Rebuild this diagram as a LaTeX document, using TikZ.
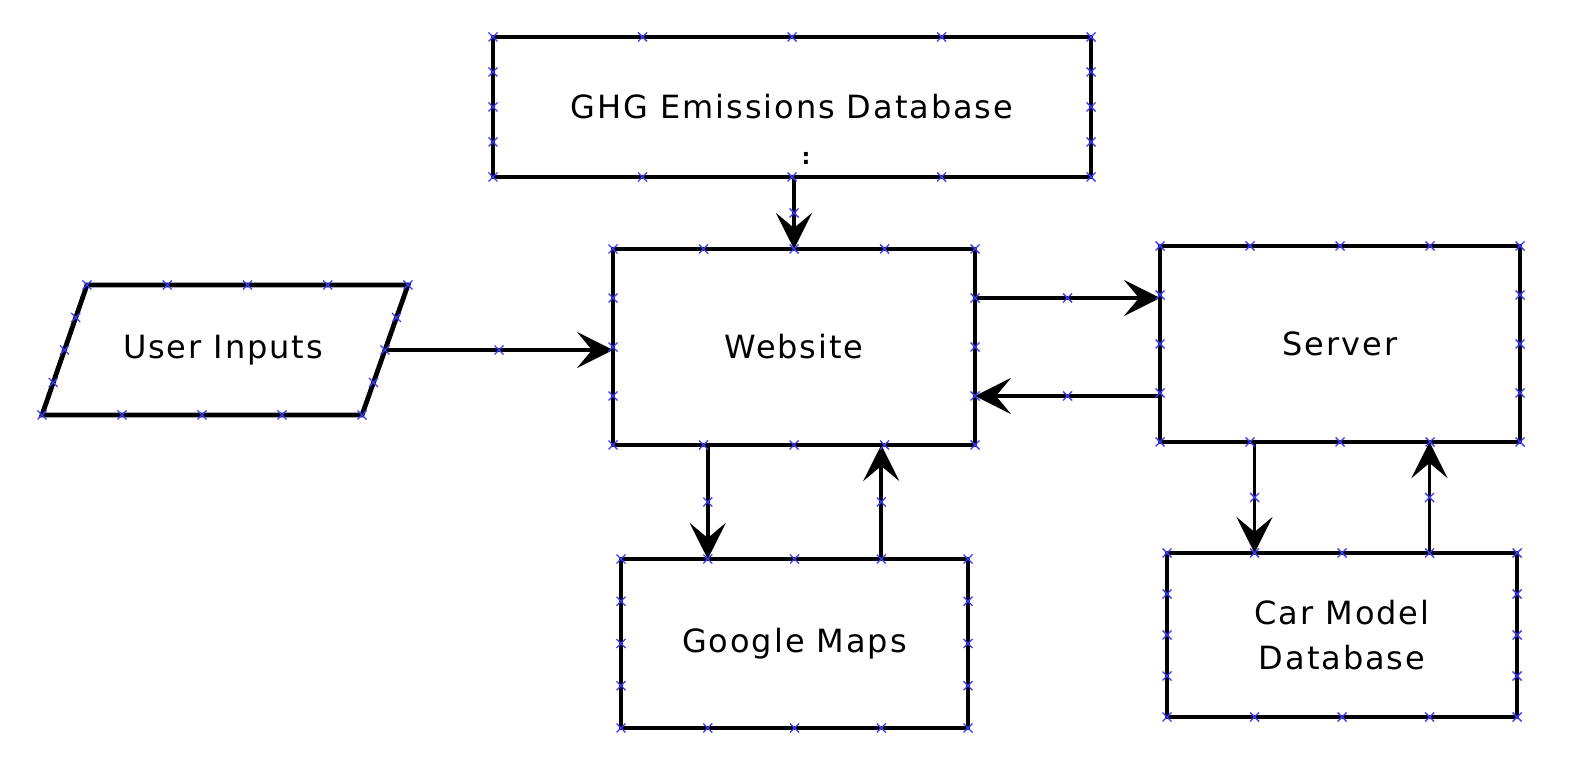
\documentclass[tikz,border=0pt]{standalone}
\usepackage{fontspec}
\setmainfont{DejaVu Sans}[LetterSpace=6]
\usetikzlibrary{arrows.meta,calc}
\definecolor{cpblue}{RGB}{60,60,255}
\tikzset{
  txt/.style={font=\fontsize{16}{22.5}\selectfont, align=center, text=black},
  box/.style={draw, line width=2.4pt, outer sep=0pt, inner sep=0pt, txt},
  pgram/.style={draw, line width=2.4pt, line join=miter},
  arr/.style={line width=1.9pt, -{Stealth[length=18pt,width=18pt,inset=7.5pt]}},
  cpmark/.style={draw=cpblue, line width=0.7pt}
}
\newcommand\cpx[1]{\draw[cpmark] (#1) +(-4.5,-4.5) -- +(4.5,4.5) +(-4.5,4.5) -- +(4.5,-4.5);}
\newcommand\cpedge[2]{\foreach \t in {0,0.25,0.5,0.75}{\cpx{$(#1)!\t!(#2)$}}}
\newcommand\cpquad[4]{\cpedge{#1}{#2}\cpedge{#2}{#3}\cpedge{#3}{#4}\cpedge{#4}{#1}}
\begin{document}
\begin{tikzpicture}[x=0.5pt,y=-0.5pt]
\useasboundingbox (0,0) rectangle (1576,764);
% boxes
\node[box, minimum width=299pt, minimum height=70pt] (ghg) at (792,107) {GHG Emissions Database};
\node[font=\fontsize{11}{11}\bfseries] (colon) at (806,158) {:};
\node[box, minimum width=181pt, minimum height=98pt] (web) at (794,347) {Website};
\node[box, minimum width=180pt, minimum height=98pt] (srv) at (1340,344) {Server};
\node[box, minimum width=173.5pt, minimum height=84.5pt] (gm) at (794.5,643.5) {Google Maps};
\node[box, minimum width=175pt, minimum height=82pt] (car) at (1342,635) {Car Model\\Database};
% parallelogram
\coordinate (uiTL) at (87,285);
\coordinate (uiTR) at (408,285);
\coordinate (uiBR) at (362,415);
\coordinate (uiBL) at (42,415);
\draw[pgram] (uiTL) -- (uiTR) -- (uiBR) -- (uiBL) -- cycle;
\node[txt] (ui) at (223,350) {User Inputs};
\coordinate (uiR) at ($(uiTR)!0.5!(uiBR)$);
% connection coordinates
\coordinate (wE1) at ($(web.north east)!0.25!(web.south east)$);
\coordinate (wE3) at ($(web.north east)!0.75!(web.south east)$);
\coordinate (gN1) at ($(gm.north west)!0.25!(gm.north east)$);
\coordinate (gN3) at ($(gm.north west)!0.75!(gm.north east)$);
\coordinate (cN1) at ($(car.north west)!0.25!(car.north east)$);
\coordinate (cN3) at ($(car.north west)!0.75!(car.north east)$);
\coordinate (a1s) at (web.north |- ghg.south);
\coordinate (a2e) at (uiR -| web.west);
\coordinate (a3e) at (wE1 -| srv.west);
\coordinate (a4s) at (wE3 -| srv.west);
\coordinate (a5s) at (gN1 |- web.south);
\coordinate (a6e) at (gN3 |- web.south);
\coordinate (a7s) at (cN1 |- srv.south);
\coordinate (a8e) at (cN3 |- srv.south);
% arrows
\draw[arr] (a1s) -- (web.north);
\draw[arr] (uiR) -- (a2e);
\draw[arr] (wE1) -- (a3e);
\draw[arr] (a4s) -- (wE3);
\draw[arr] (a5s) -- (gN1);
\draw[arr] (gN3) -- (a6e);
\draw[arr] (a7s) -- (cN1);
\draw[arr] (cN3) -- (a8e);
% connection point marks
\cpquad{ghg.north west}{ghg.north east}{ghg.south east}{ghg.south west}
\cpquad{web.north west}{web.north east}{web.south east}{web.south west}
\cpquad{srv.north west}{srv.north east}{srv.south east}{srv.south west}
\cpquad{gm.north west}{gm.north east}{gm.south east}{gm.south west}
\cpquad{car.north west}{car.north east}{car.south east}{car.south west}
\cpquad{uiTL}{uiTR}{uiBR}{uiBL}
\cpx{$(a1s)!0.5!(web.north)$}
\cpx{$(uiR)!0.5!(a2e)$}
\cpx{$(wE1)!0.5!(a3e)$}
\cpx{$(a4s)!0.5!(wE3)$}
\cpx{$(a5s)!0.5!(gN1)$}
\cpx{$(gN3)!0.5!(a6e)$}
\cpx{$(a7s)!0.5!(cN1)$}
\cpx{$(cN3)!0.5!(a8e)$}
\end{tikzpicture}
\end{document}
